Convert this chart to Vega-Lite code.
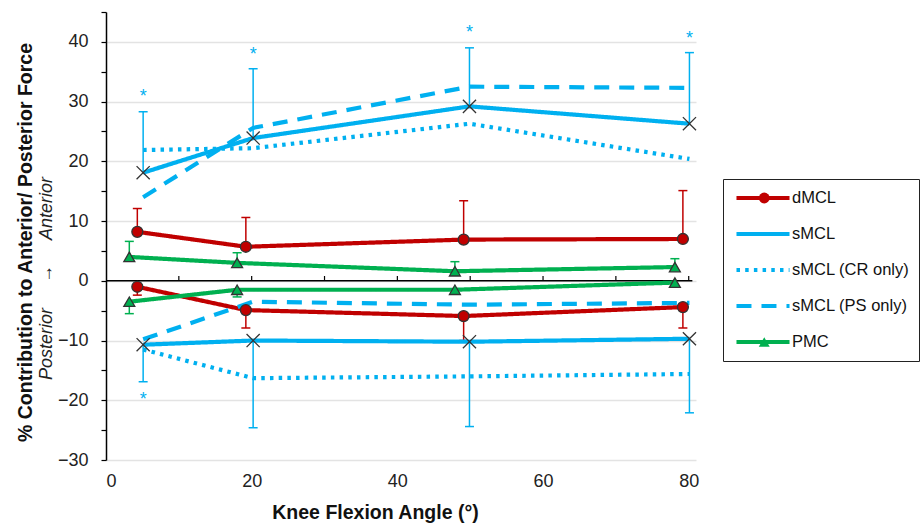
{
  "$schema": "https://vega.github.io/schema/vega-lite/v6.json",
  "width": 590,
  "height": 448,
  "autosize": {"type": "none"},
  "padding": {"left": 106, "top": 12, "right": 227, "bottom": 66},
  "background": "white",
  "config": {"view": {"stroke": null}, "font": "Liberation Sans"},
  "datasets": {
    "pts": [
      {"series": "dMCL", "side": "pos", "x": 4.3, "y": 8.2, "err": 12.1},
      {"series": "dMCL", "side": "pos", "x": 19.2, "y": 5.7, "err": 10.6},
      {"series": "dMCL", "side": "pos", "x": 49.1, "y": 6.9, "err": 13.4},
      {"series": "dMCL", "side": "pos", "x": 79.2, "y": 7.0, "err": 15.1},
      {"series": "dMCL", "side": "neg", "x": 4.3, "y": -1.0, "err": -2.4},
      {"series": "dMCL", "side": "neg", "x": 19.2, "y": -4.9, "err": -7.9},
      {"series": "dMCL", "side": "neg", "x": 49.1, "y": -5.9, "err": -10.0},
      {"series": "dMCL", "side": "neg", "x": 79.2, "y": -4.4, "err": -7.9},
      {"series": "sMCL", "side": "pos", "x": 5.1, "y": 18.1, "err": 28.3, "ast": 31.5},
      {"series": "sMCL", "side": "pos", "x": 20.2, "y": 23.9, "err": 35.5, "ast": 38.4},
      {"series": "sMCL", "side": "pos", "x": 49.9, "y": 29.2, "err": 39.0, "ast": 42.2},
      {"series": "sMCL", "side": "pos", "x": 80.1, "y": 26.3, "err": 38.2, "ast": 41.2},
      {"series": "sMCL", "side": "neg", "x": 5.1, "y": -10.7, "err": -16.9, "ast": -19.3},
      {"series": "sMCL", "side": "neg", "x": 20.2, "y": -10.0, "err": -24.6},
      {"series": "sMCL", "side": "neg", "x": 49.9, "y": -10.2, "err": -24.4},
      {"series": "sMCL", "side": "neg", "x": 80.1, "y": -9.7, "err": -22.1},
      {"series": "sMCL (CR only)", "side": "pos", "x": 5.1, "y": 21.9},
      {"series": "sMCL (CR only)", "side": "pos", "x": 20.2, "y": 22.2},
      {"series": "sMCL (CR only)", "side": "pos", "x": 49.9, "y": 26.3},
      {"series": "sMCL (CR only)", "side": "pos", "x": 80.1, "y": 20.4},
      {"series": "sMCL (CR only)", "side": "neg", "x": 5.1, "y": -11.5},
      {"series": "sMCL (CR only)", "side": "neg", "x": 20.2, "y": -16.3},
      {"series": "sMCL (CR only)", "side": "neg", "x": 49.9, "y": -16.0},
      {"series": "sMCL (CR only)", "side": "neg", "x": 80.1, "y": -15.6},
      {"series": "sMCL (PS only)", "side": "pos", "x": 5.1, "y": 14.0},
      {"series": "sMCL (PS only)", "side": "pos", "x": 20.2, "y": 25.6},
      {"series": "sMCL (PS only)", "side": "pos", "x": 49.9, "y": 32.5},
      {"series": "sMCL (PS only)", "side": "pos", "x": 80.1, "y": 32.3},
      {"series": "sMCL (PS only)", "side": "neg", "x": 5.1, "y": -9.8},
      {"series": "sMCL (PS only)", "side": "neg", "x": 20.2, "y": -3.5},
      {"series": "sMCL (PS only)", "side": "neg", "x": 49.9, "y": -4.0},
      {"series": "sMCL (PS only)", "side": "neg", "x": 80.1, "y": -3.7},
      {"series": "PMC", "side": "pos", "x": 3.2, "y": 4.0, "err": 6.6},
      {"series": "PMC", "side": "pos", "x": 18.0, "y": 3.0, "err": 4.7},
      {"series": "PMC", "side": "pos", "x": 47.9, "y": 1.6, "err": 3.2},
      {"series": "PMC", "side": "pos", "x": 78.1, "y": 2.3, "err": 3.7},
      {"series": "PMC", "side": "neg", "x": 3.2, "y": -3.5, "err": -5.5},
      {"series": "PMC", "side": "neg", "x": 18.0, "y": -1.5, "err": -2.7},
      {"series": "PMC", "side": "neg", "x": 47.9, "y": -1.5},
      {"series": "PMC", "side": "neg", "x": 78.1, "y": -0.3}
    ],
    "zt": [{"t": 10}, {"t": 20}, {"t": 30}, {"t": 40}, {"t": 50}, {"t": 60}, {"t": 70}, {"t": 80}]
  },
  "layer": [
    {
      "data": {"values": [{"z": 0}]},
      "mark": {"type": "rule", "color": "black", "strokeWidth": 1.5},
      "encoding": {
        "x": {"datum": 0, "type": "quantitative", "scale": {"domain": [0, 81], "nice": false}},
        "x2": {"datum": 80.5},
        "y": {"datum": 0, "type": "quantitative", "axis": null}
      }
    },
    {
      "data": {"name": "zt"},
      "mark": {"type": "rule", "color": "black", "strokeWidth": 1.2},
      "encoding": {
        "x": {"field": "t", "type": "quantitative"},
        "y": {"datum": 0, "type": "quantitative", "axis": null},
        "y2": {"datum": 0.8}
      }
    },
    {
      "data": {"name": "pts"},
      "transform": [{"filter": "isValid(datum.err)"}],
      "mark": {"type": "rule", "strokeWidth": 1.5},
      "encoding": {
        "x": {"field": "x", "type": "quantitative"},
        "y": {"field": "y", "type": "quantitative", "axis": null},
        "y2": {"field": "err"},
        "stroke": {"field": "series", "type": "nominal",
          "scale": {"domain": ["dMCL", "sMCL", "sMCL (CR only)", "sMCL (PS only)", "PMC"], "range": ["#c00000", "#00b0f0", "#00b0f0", "#00b0f0", "#00b050"]},
          "legend": {"orient": "none", "legendX": 617, "legendY": 167, "title": null, "symbolType": "M-2.5,0H2.5", "symbolSize": 450, "symbolStrokeWidth": 4, "symbolOffset": 18, "labelOffset": 16, "padding": 9, "clipHeight": 20, "rowPadding": 16, "labelFontSize": 16.5, "labelFont": "Liberation Sans", "labelColor": "#111", "strokeColor": "#222", "symbolFillColor": "transparent"}}
      }
    },
    {
      "data": {"name": "pts"},
      "transform": [{"filter": "isValid(datum.err)"}],
      "mark": {"type": "point", "shape": "stroke", "size": 81, "strokeWidth": 1.5, "opacity": 1, "filled": false},
      "encoding": {
        "x": {"field": "x", "type": "quantitative"},
        "y": {"field": "err", "type": "quantitative", "axis": null},
        "stroke": {"field": "series", "type": "nominal",
          "scale": {"domain": ["dMCL", "sMCL", "sMCL (CR only)", "sMCL (PS only)", "PMC"], "range": ["#c00000", "#00b0f0", "#00b0f0", "#00b0f0", "#00b050"]},
          "legend": {"orient": "none", "legendX": 617, "legendY": 167, "title": null, "symbolType": "M-2.5,0H2.5", "symbolSize": 450, "symbolStrokeWidth": 4, "symbolOffset": 18, "labelOffset": 16, "padding": 9, "clipHeight": 20, "rowPadding": 16, "labelFontSize": 16.5, "labelFont": "Liberation Sans", "labelColor": "#111", "strokeColor": "#222", "symbolFillColor": "transparent"}}
      }
    },
    {
      "data": {"name": "pts"},
      "mark": {"type": "line", "strokeWidth": 4.2},
      "encoding": {
        "x": {"field": "x", "type": "quantitative", "scale": {"domain": [0, 81], "nice": false},
          "axis": {"values": [0, 20, 40, 60, 80], "domain": false, "ticks": false, "grid": false, "labelFontSize": 18, "labelColor": "#222", "labelPadding": 12,
            "title": "Knee Flexion Angle (°)", "titleFontSize": 19.5, "titleFontWeight": "bold", "titleColor": "#111", "titleX": 269, "titleY": 52, "titleBaseline": "middle", "titleAlign": "center", "titleAnchor": null}},
        "y": {"field": "y", "type": "quantitative", "scale": {"domain": [-30, 45], "nice": false, "zero": false},
          "axis": {"orient": "left", "values": [-30, -25, -20, -15, -10, -5, 0, 5, 10, 15, 20, 25, 30, 35, 40, 45],
            "labelExpr": "datum.value % 10 == 0 ? datum.label : ''",
            "grid": true, "gridColor": {"condition": {"test": "datum.value % 10 == 0", "value": "#e3e3e3"}, "value": "transparent"}, "gridWidth": 1.5,
            "domainColor": "black", "domainWidth": 1.5, "tickColor": "black", "tickSize": 5, "tickWidth": 1.2,
            "labelFontSize": 18, "labelColor": "#222", "labelPadding": 13,
            "title": "Posterior\u00a0\u00a0\u00a0\u00a0\u00a0→\u00a0\u00a0\u00a0\u00a0\u00a0Anterior", "titleFontStyle": "italic", "titleFontWeight": "normal", "titleFontSize": 18, "titleColor": "#222",
            "titleX": -60, "titleY": 266, "titleAngle": -90, "titleBaseline": "middle", "titleAlign": "center", "titleAnchor": null}},
        "detail": {"field": "side"},
        "order": {"field": "x", "type": "quantitative"},
        "stroke": {"field": "series", "type": "nominal",
          "scale": {"domain": ["dMCL", "sMCL", "sMCL (CR only)", "sMCL (PS only)", "PMC"], "range": ["#c00000", "#00b0f0", "#00b0f0", "#00b0f0", "#00b050"]},
          "legend": {"orient": "none", "legendX": 617, "legendY": 167, "title": null, "symbolType": "M-2.5,0H2.5", "symbolSize": 450, "symbolStrokeWidth": 4, "symbolOffset": 18, "labelOffset": 16, "padding": 9, "clipHeight": 20, "rowPadding": 16, "labelFontSize": 16.5, "labelFont": "Liberation Sans", "labelColor": "#111", "strokeColor": "#222", "symbolFillColor": "transparent"}},
        "strokeDash": {"field": "series", "type": "nominal",
          "scale": {"domain": ["dMCL", "sMCL", "sMCL (CR only)", "sMCL (PS only)", "PMC"], "range": [[1, 0], [1, 0], [3.5, 5.2], [15, 10], [1, 0]]},
          "legend": {"orient": "none", "legendX": 617, "legendY": 167, "title": null, "symbolType": "M-2.5,0H2.5", "symbolSize": 450, "symbolStrokeWidth": 4, "symbolOffset": 18, "labelOffset": 16, "padding": 9, "clipHeight": 20, "rowPadding": 16, "labelFontSize": 16.5, "labelFont": "Liberation Sans", "labelColor": "#111", "strokeColor": "#222", "symbolFillColor": "transparent"}}
      }
    },
    {
      "data": {"name": "pts"},
      "mark": {"type": "point", "filled": true, "size": 120, "stroke": "#333", "strokeWidth": 1.3, "opacity": 1},
      "encoding": {
        "x": {"field": "x", "type": "quantitative"},
        "y": {"field": "y", "type": "quantitative", "axis": null},
        "shape": {"field": "series", "type": "nominal", "sort": null,
          "scale": {"range": ["circle", "M-1.2,-1.2L1.2,1.2M-1.2,1.2L1.2,-1.2", "M0,0", "M0,0", "triangle-up"]},
          "legend": {"orient": "none", "legendX": 617, "legendY": 167, "title": null, "symbolSize": 120, "symbolOffset": 24, "padding": 9, "clipHeight": 20, "rowPadding": 16, "labelFontSize": 16.5, "labelExpr": "''", "symbolStrokeColor": "#333", "symbolStrokeWidth": 1.3}},
        "fill": {"field": "series", "type": "nominal", "sort": null,
          "scale": {"range": ["#c00000", "transparent", "transparent", "transparent", "#00b050"]},
          "legend": {"orient": "none", "legendX": 617, "legendY": 167, "title": null, "symbolSize": 120, "symbolOffset": 24, "padding": 9, "clipHeight": 20, "rowPadding": 16, "labelFontSize": 16.5, "labelExpr": "''", "symbolStrokeColor": "#333", "symbolStrokeWidth": 1.3}}
      }
    },
    {
      "data": {"name": "pts"},
      "transform": [{"filter": "isValid(datum.ast)"}],
      "mark": {"type": "text", "text": "*", "color": "#00b0f0", "fontSize": 18, "baseline": "middle", "dy": 4},
      "encoding": {
        "x": {"field": "x", "type": "quantitative"},
        "y": {"field": "ast", "type": "quantitative", "scale": {"domain": [-30, 45], "nice": false, "zero": false},
          "axis": {"orient": "left", "labels": false, "ticks": false, "domain": false, "grid": false,
            "title": "% Contribution to Anterior/ Posterior Force", "titleFontWeight": "bold", "titleFontSize": 19.5, "titleColor": "#111",
            "titleX": -81, "titleY": 230, "titleAngle": -90, "titleBaseline": "middle", "titleAlign": "center", "titleAnchor": null}}
      }
    }
  ],
  "resolve": {"axis": {"y": "independent"}}
}
